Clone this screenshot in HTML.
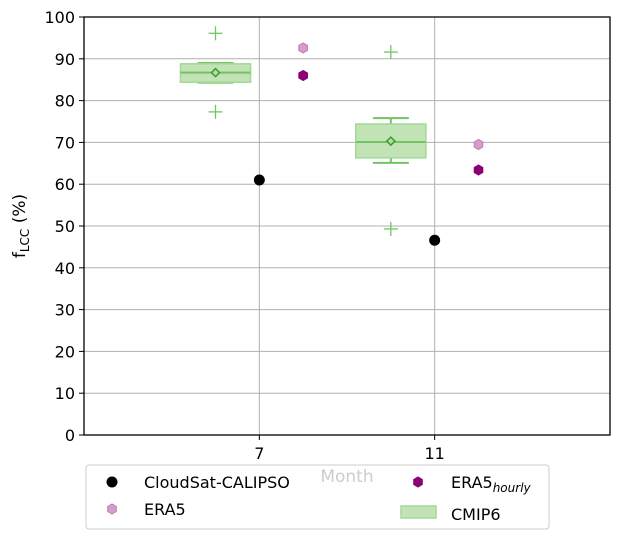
<!DOCTYPE html>
<html><head><meta charset="utf-8"><style>
body{margin:0;background:#fff;font-family:"Liberation Sans","DejaVu Sans",sans-serif}
svg text{font-family:"DejaVu Sans","Liberation Sans",sans-serif}
</style></head><body>
<svg id="c" width="619" height="540" xmlns="http://www.w3.org/2000/svg"></svg>
<script>
const yTicks=[0,10,20,30,40,50,60,70,80,90,100];
const xTicks=[7,11];
const cloudsatX=[7,11], cloudsatY=[61,46.6];
const era5X=[8,12], era5Y=[92.6,69.5];
const era5hX=[8,12], era5hY=[86,63.4];
const boxX=[6,10];
const boxQ1=[84.4,66.3], boxQ3=[88.8,74.4], boxMed=[86.7,70.1];
const boxWLo=[84.3,65.1], boxWHi=[89.0,75.8], boxMean=[86.7,70.3];
const flierHi=[96.1,91.6], flierLo=[77.3,49.3];
const L=84,R=610,T=17,B=435;
const X=v=>L+(v-3)/12*(R-L), Y=v=>B-v/100*(B-T);
const svg=document.getElementById('c');const NS='http://www.w3.org/2000/svg';
function el(t,a,txt){const e=document.createElementNS(NS,t);for(const k in a)e.setAttribute(k,a[k]);if(txt!=null)e.textContent=txt;svg.appendChild(e);return e;}
yTicks.forEach(v=>{
 const g=el('line',{x1:L,x2:R,y1:Y(v),y2:Y(v),stroke:'#b0b0b0','stroke-width':1});
 
 el('line',{x1:L-5,x2:L,y1:Y(v),y2:Y(v),stroke:'#000'});
 const t=el('text',{x:L-9,y:Y(v)+6,'text-anchor':'end','font-size':16},v);
 
});
xTicks.forEach(v=>{
 const g=el('line',{x1:X(v),x2:X(v),y1:T,y2:B,stroke:'#b0b0b0','stroke-width':1});
 
 el('line',{x1:X(v),x2:X(v),y1:B,y2:B+5,stroke:'#000'});
 const t=el('text',{x:X(v),y:B+24,'text-anchor':'middle','font-size':16},v);
 
});
const hw=1.6*(R-L)/12;
boxX.forEach((bx,i)=>{
 const cx=X(bx);
 const g=el('g',{});
 const a=(t,o)=>{const e=document.createElementNS(NS,t);for(const k in o)e.setAttribute(k,o[k]);g.appendChild(e);};
 a('line',{x1:cx,x2:cx,y1:Y(boxWHi[i]),y2:Y(boxQ3[i]),stroke:'#74c365','stroke-width':2});
 a('line',{x1:cx,x2:cx,y1:Y(boxWLo[i]),y2:Y(boxQ1[i]),stroke:'#74c365','stroke-width':2});
 a('line',{x1:cx-18,x2:cx+18,y1:Y(boxWHi[i]),y2:Y(boxWHi[i]),stroke:'#74c365','stroke-width':2});
 a('line',{x1:cx-18,x2:cx+18,y1:Y(boxWLo[i]),y2:Y(boxWLo[i]),stroke:'#74c365','stroke-width':2});
 a('rect',{x:cx-hw/2,y:Y(boxQ3[i]),width:hw,height:Y(boxQ1[i])-Y(boxQ3[i]),fill:'#c1e3b5',stroke:'#a3d995','stroke-width':1.5});
 a('line',{x1:cx-hw/2,x2:cx+hw/2,y1:Y(boxMed[i]),y2:Y(boxMed[i]),stroke:'#74c365','stroke-width':2});
 const my=Y(boxMean[i]);
 a('polygon',{points:`${cx},${my-4} ${cx+4},${my} ${cx},${my+4} ${cx-4},${my}`,fill:'#b5e0a5',stroke:'#3a9a30','stroke-width':1.5});
 [flierHi[i],flierLo[i]].forEach(f=>{const fy=Y(f);
  a('line',{x1:cx-7,x2:cx+7,y1:fy,y2:fy,stroke:'#74c365','stroke-width':1.3});
  a('line',{x1:cx,x2:cx,y1:fy-7,y2:fy+7,stroke:'#74c365','stroke-width':1.3});});
});
function hex(cx,cy,r,fill,stroke){let p=[];for(let k=0;k<6;k++){const a=Math.PI/3*k+Math.PI/6;p.push((cx+r*Math.cos(a)).toFixed(1)+','+(cy+r*Math.sin(a)).toFixed(1));}return el('polygon',{points:p.join(' '),fill:fill,stroke:stroke,'stroke-width':1});}
cloudsatX.forEach((v,i)=>{const c=el('circle',{cx:X(v),cy:Y(cloudsatY[i]),r:5.5,fill:'#000'});});
era5X.forEach((v,i)=>{const h=hex(X(v),Y(era5Y[i]),5,'#d69ccc','#c479b8');});
era5hX.forEach((v,i)=>{const h=hex(X(v),Y(era5hY[i]),5,'#8b0079','#8b0079');});
const fr=el('rect',{x:L,y:T,width:R-L,height:B-T,fill:'none',stroke:'#000','stroke-width':1.3});

const yl=el('text',{transform:`translate(25,${(T+B)/2}) rotate(-90)`,'text-anchor':'middle','font-size':17});
yl.innerHTML='f<tspan font-size="12" dy="4">LCC</tspan><tspan dy="-4"> (%)</tspan>';

const lg=el('rect',{x:86,y:465,width:463,height:64,rx:3,fill:'#fff',stroke:'#ccc'});

const xl=el('text',{x:347,y:482,'text-anchor':'middle','font-size':17,fill:'#ccc'},'Month');

el('circle',{cx:112,cy:482,r:5.5,fill:'#000'});
let t1=el('text',{x:144,y:488,'font-size':16},'CloudSat-CALIPSO');
hex(112,509,5,'#d69ccc','#c479b8');
let t2=el('text',{x:144,y:515,'font-size':16},'ERA5');
hex(418,482,5,'#8b0079','#8b0079');
let t3=el('text',{x:451,y:488,'font-size':16});t3.innerHTML='ERA5<tspan font-size="12" font-style="italic" dy="4">hourly</tspan>';

el('rect',{x:401,y:506,width:35,height:12,fill:'#c1e3b5',stroke:'#a3d995','stroke-width':1.5});
let t4=el('text',{x:451,y:520,'font-size':16},'CMIP6');
</script>
</body></html>
